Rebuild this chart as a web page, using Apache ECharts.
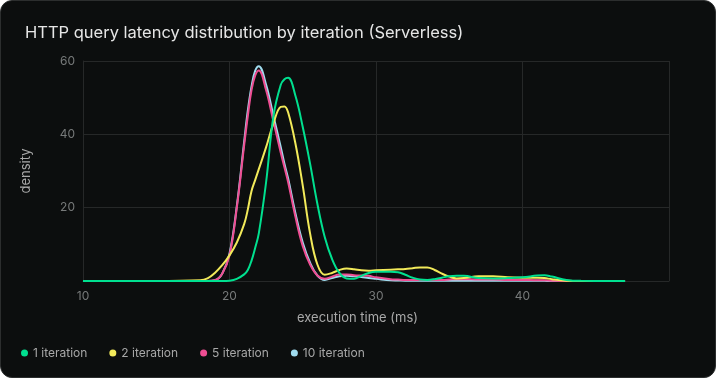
<!DOCTYPE html>
<html>
<head>
<meta charset="utf-8">
<script src="https://cdn.jsdelivr.net/npm/echarts@6/dist/echarts.min.js"></script>
<style>
  html, body { margin: 0; padding: 0; background: #ffffff; }
  #card { position: absolute; left: 0; top: 0; width: 714px; height: 376px; background: #0c0e0e; border: 1px solid #2c2e2e; border-radius: 12px; overflow: hidden; }
  #chart { position: absolute; left: -1px; top: -1px; width: 716px; height: 378px; }
</style>
</head>
<body>
<div id="card"><div id="chart"></div></div>
<script>
const seriesNames = ['1 iteration', '2 iteration', '5 iteration', '10 iteration'];
const xs = [10, 15, 18, 18.5, 19, 19.5, 20, 20.5, 21, 21.25,
  21.5, 21.75, 22, 22.5, 23, 23.5, 23.75, 24, 24.5, 25,
  25.5, 26, 26.5, 27, 27.5, 28, 28.5, 29, 29.5, 30,
  31, 31.5, 32, 32.5, 33, 33.5, 34, 34.5, 35, 35.5,
  36, 37, 38, 39, 40, 41, 41.5, 42, 43, 44,
  47];
const iter1 = [0, 0, 0, 0, 0, 0, 0.1, 0.6, 1.8, 3,
  5.5, 9, 13, 27, 45, 53.5, 55, 55.4, 50.5, 42,
  32, 21, 12, 6, 2.2, 0.7, 0.6, 1.4, 2.2, 2.5,
  2.5, 2.4, 1.7, 0.9, 0.4, 0.3, 0.5, 0.9, 1.3, 1.4,
  1.4, 0.8, 0.7, 0.8, 1.0, 1.5, 1.6, 1.2, 0.3, 0.05,
  0];
const iter2 = [0, 0, 0.2, 0.7, 2.2, 4.3, 7, 10.5, 15.5, 19.5,
  24.5, 27.5, 30.5, 36.5, 43, 47.5, 47.6, 46, 37.5, 26,
  13, 4.5, 1.7, 2.2, 3, 3.4, 3.2, 2.9, 2.8, 2.9,
  3.1, 3.2, 3.3, 3.5, 3.7, 3.7, 3.0, 2.0, 1.2, 0.7,
  0.8, 1.3, 1.3, 1.0, 0.9, 0.9, 0.8, 0.5, 0.1, 0,
  0];
const iter5 = [0, 0, 0, 0, 0.2, 2, 7, 20, 37, 45,
  52, 56, 57.4, 52, 43.5, 35, 31, 27, 17.5, 9.5,
  4.5, 1.5, 0.6, 1.2, 1.8, 1.8, 1.6, 1.5, 1.4, 1.0,
  0.5, 0.4, 0.3, 0.3, 0.3, 0.3, 0.3, 0.3, 0.4, 0.5,
  0.5, 0.4, 0.4, 0.3, 0.3, 0.2, 0.2, 0.1, 0, 0,
  0];
const iter10 = [0, 0, 0, 0, 0.2, 2, 7.5, 20.5, 38, 46.5,
  53, 57.3, 58.6, 53.5, 45, 36.5, 32, 28, 18.5, 10.5,
  5, 1.5, 0.3, 0.8, 1.3, 1.4, 1.3, 1.1, 0.8, 0.6,
  0.2, 0.15, 0.1, 0.1, 0.1, 0.1, 0.1, 0.1, 0.1, 0.1,
  0.1, 0.1, 0.1, 0.1, 0.1, 0.1, 0.05, 0, 0, 0,
  0];
const xTicks = [10, 20, 30, 40, 50];
const yTicks = [0, 20, 40, 60];

const colors = ['#00e08f', '#f2ea5a', '#ef4d92', '#a0dcef'];
const allSeries = [iter1, iter2, iter5, iter10];
const zs = [5, 4, 3, 2];

const font = 'Inter, "Noto Sans", sans-serif';
const chart = echarts.init(document.getElementById('chart'), null, { renderer: 'canvas' });
chart.setOption({
  backgroundColor: 'transparent',
  animation: false,
  color: colors,
  textStyle: { fontFamily: font },
  title: {
    text: 'HTTP query latency distribution by iteration (Serverless)',
    left: 20, top: 20,
    textStyle: { color: '#e6e6e6', fontSize: 16.5, fontWeight: 'normal', fontFamily: font }
  },
  legend: {
    data: seriesNames,
    left: 16, top: 342,
    icon: 'circle', itemWidth: 7, itemHeight: 7, itemGap: 22,
    textStyle: { color: '#a8a8a8', fontSize: 12, fontFamily: font }
  },
  grid: { left: 83, right: 47, top: 61, bottom: 97, containLabel: false },
  xAxis: {
    type: 'value', min: xTicks[0], max: xTicks[xTicks.length - 1], interval: 10,
    name: 'execution time (ms)', nameLocation: 'middle', nameGap: 31,
    nameTextStyle: { color: '#a8a8a8', fontSize: 13, fontFamily: font, padding: [0, 37, 0, 0] },
    axisLine: { show: true, lineStyle: { color: '#262828' } },
    axisTick: { show: false },
    axisLabel: { color: '#777a7a', fontSize: 12, margin: 9, showMaxLabel: false, fontFamily: font },
    splitLine: { show: true, lineStyle: { color: '#262828', width: 1 } }
  },
  yAxis: {
    type: 'value', min: yTicks[0], max: yTicks[yTicks.length - 1], interval: 20,
    name: 'density', nameLocation: 'middle', nameGap: 50,
    nameTextStyle: { color: '#a8a8a8', fontSize: 13, fontFamily: font },
    axisLine: { show: true, lineStyle: { color: '#262828' } },
    axisTick: { show: false },
    axisLabel: { color: '#777a7a', fontSize: 12, margin: 8, showMinLabel: false, fontFamily: font },
    splitLine: { show: true, lineStyle: { color: '#262828', width: 1 } }
  },
  series: allSeries.map((ys, i) => ({
    name: seriesNames[i],
    type: 'line',
    smooth: 0.4,
    showSymbol: false,
    z: zs[i],
    lineStyle: { width: 2, color: colors[i] },
    itemStyle: { color: colors[i] },
    data: xs.map((x, j) => [x, ys[j]])
  }))
});
</script>
</body>
</html>
